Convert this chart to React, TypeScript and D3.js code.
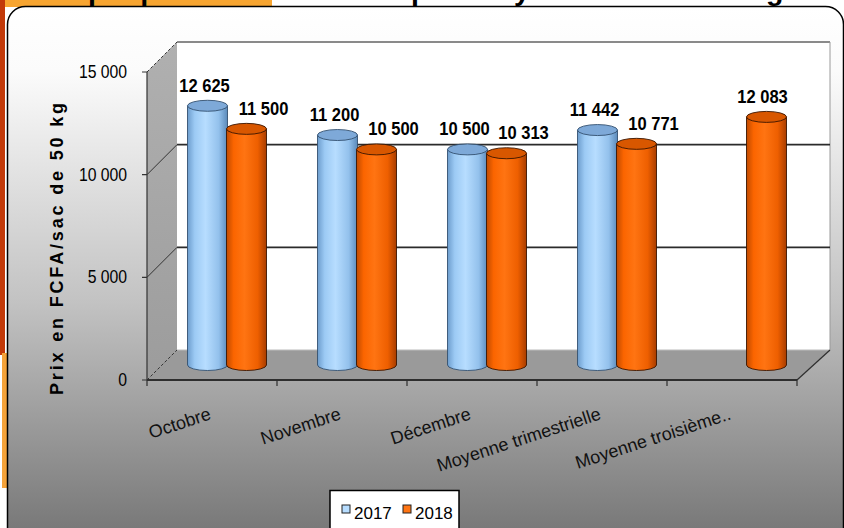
import React from "react";
import * as d3 from "d3";

const categories = [
  "Octobre",
  "Novembre",
  "Décembre",
  "Moyenne trimestrielle",
  "Moyenne troisième..",
];
const series = ["2017", "2018"];
const values2017: (number | null)[] = [12625, 11200, 10500, 11442, null];
const values2018: (number | null)[] = [11500, 10500, 10313, 10771, 12083];
const yTicks = [0, 5000, 10000, 15000];
const yTitle = "Prix en FCFA/sac de 50 kg";
const title = "Graphique 4 : Evolution du prix moyen du sac de 50 kg";

const fr = d3.formatLocale({
  decimal: ",",
  thousands: "\u00a0",
  grouping: [3],
  currency: ["", " FCFA"],
});
const fmt = fr.format(",d");

const W = 844;
const H = 528;
const font = "'Liberation Sans', Arial, sans-serif";

// 3D box
const plot = { left: 147, right: 797, top: 72, bottom: 380 };
const depth = { dx: 30, dy: -30 };

const colors = {
  "2017": { stops: ["#6d9dcd", "#9ccaf4", "#b7ddff", "#93c1ec", "#5b8aba"], top: "#7ea9d8", line: "#33506f" },
  "2018": { stops: ["#c04a00", "#fb6500", "#ff7412", "#ee5f00", "#a83d00"], top: "#d85700", line: "#3a1500" },
};

export default function App() {
  const x0 = d3.scaleBand<string>().domain(categories).range([plot.left, plot.right]);
  const x1 = d3.scaleBand<string>().domain(series).range([-39, 39]);
  const y = d3.scaleLinear().domain([0, 15000]).range([plot.bottom, plot.top]);

  const bdx = depth.dx;
  const bdy = depth.dy;
  const mdx = depth.dx / 2;
  const mdy = depth.dy / 2;

  const backL = plot.left + bdx;
  const backR = plot.right + bdx + 3;
  const y0 = y(0);
  const yMax = y(15000);

  const rx = x1.bandwidth() / 2 + 0.5;
  const ry = 5.5;

  const bars: { cat: string; s: string; v: number; i: number }[] = [];
  categories.forEach((c, i) => {
    if (values2017[i] != null) bars.push({ cat: c, s: "2017", v: values2017[i] as number, i });
    if (values2018[i] != null) bars.push({ cat: c, s: "2018", v: values2018[i] as number, i });
  });

  const barX = (b: { cat: string; s: string }) =>
    (x0(b.cat) as number) + x0.bandwidth() / 2 + (x1(b.s) as number) + x1.bandwidth() / 2 + mdx;

  return (
    <svg
      width={W}
      height={H}
      style={{ position: "absolute", left: 0, top: 0, display: "block", background: "#fff" }}
    >
      <defs>
        <linearGradient id="bg" x1="0" y1="0" x2="0" y2="1">
          <stop offset="0" stopColor="#ffffff" />
          <stop offset="0.12" stopColor="#fbfbfb" />
          <stop offset="0.55" stopColor="#c2c2c2" />
          <stop offset="1" stopColor="#737373" />
        </linearGradient>
        <linearGradient id="side" x1="0" y1="0" x2="0" y2="1">
          <stop offset="0" stopColor="#b0b0b0" />
          <stop offset="1" stopColor="#9c9c9c" />
        </linearGradient>
        {series.map((s) => (
          <linearGradient key={s} id={`cyl${s}`} x1="0" y1="0" x2="1" y2="0">
            {colors[s].stops.map((c, k) => (
              <stop key={k} offset={[0, 0.18, 0.45, 0.78, 1][k]} stopColor={c} />
            ))}
          </linearGradient>
        ))}
        <clipPath id="frameClip">
          <rect x={7.5} y={6.5} width={836} height={540} rx={18} />
        </clipPath>
      </defs>

      {/* page decoration behind chart */}
      <rect x={0} y={0} width={272} height={7} fill="#f7a531" />
      <rect x={0} y={0} width={5} height={355} fill="#c23a0a" />
      <rect x={2} y={353} width={5} height={135} fill="#f5a33a" />
      <text x={39} y={-0.5} fontFamily={font} fontWeight="bold" fontSize={28.5} fill="#000">
        {title}
      </text>

      {/* chart frame */}
      <rect x={7.5} y={6.5} width={836} height={540} rx={18} fill="url(#bg)" stroke="#000" strokeWidth={1.5} />

      <g clipPath="url(#frameClip)">
        {/* floor */}
        <polygon
          points={`${plot.left},${y0} ${backL},${y0 + bdy} ${backR},${y0 + bdy} ${plot.right},${y0}`}
          fill="#9a9a9a"
        />
        {/* side wall */}
        <polygon
          points={`${plot.left},${yMax} ${backL},${yMax + bdy} ${backL},${y0 + bdy} ${plot.left},${y0}`}
          fill="url(#side)"
        />
        {/* back wall */}
        <rect x={backL} y={yMax + bdy} width={backR - backL} height={y0 - yMax} fill="#fff" />
        <line x1={backL} x2={backR} y1={yMax + bdy} y2={yMax + bdy} stroke="#8a8a8a" strokeWidth={2} />
        <line x1={backR} x2={backR} y1={yMax + bdy} y2={y0 + bdy} stroke="#9a9a9a" strokeWidth={1} />
        <line x1={backL} x2={backR} y1={y0 + bdy} y2={y0 + bdy} stroke="#bbb" strokeWidth={1} />

        {/* gridlines */}
        {yTicks.map((t) => {
          const edge = t === 0 || t === 15000;
          return (
            <g key={t}>
              <line
                x1={plot.left}
                y1={y(t)}
                x2={backL}
                y2={y(t) + bdy}
                stroke="#333"
                strokeWidth={1}
                strokeDasharray={edge ? "3,2" : undefined}
              />
              {!edge && (
                <line x1={backL} x2={backR} y1={y(t) + bdy} y2={y(t) + bdy} stroke="#2b2b2b" strokeWidth={1.6} />
              )}
            </g>
          );
        })}

        {/* cylinders */}
        {bars.map((b) => {
          const cx = barX(b);
          const yt = y(b.v) + mdy;
          const yb = y(0) + mdy;
          const c = colors[b.s];
          const body = `M${cx - rx},${yt} L${cx - rx},${yb} A${rx},${ry} 0 0 0 ${cx + rx},${yb} L${cx + rx},${yt} Z`;
          return (
            <g key={b.cat + b.s}>
              <path d={body} fill={`url(#cyl${b.s})`} stroke={c.line} strokeWidth={0.9} />
              <ellipse cx={cx} cy={yt} rx={rx} ry={ry} fill={c.top} stroke={c.line} strokeWidth={0.9} />
            </g>
          );
        })}

        {/* data labels */}
        {bars.map((b) => {
          const cx = barX(b);
          const yt = y(b.v) + mdy;
          const shift = b.s === "2018" ? (values2017[b.i] != null ? 17 : -4) : -3;
          return (
            <text
              key={"l" + b.cat + b.s}
              transform={`translate(${cx + shift},${yt - 14}) scale(0.87,1)`}
              textAnchor="middle"
              fontFamily={font}
              fontWeight="bold"
              fontSize={19}
              fill="#000"
            >
              {fmt(b.v)}
            </text>
          );
        })}

        {/* y axis */}
        <line x1={plot.left} x2={plot.left} y1={yMax} y2={y0} stroke="#333" strokeWidth={1.2} />
        {yTicks.map((t) => (
          <g key={"t" + t}>
            <line x1={plot.left - 5} x2={plot.left} y1={y(t)} y2={y(t)} stroke="#333" strokeWidth={1.2} />
            <text
              transform={`translate(${plot.left - 20},${y(t)}) scale(0.9,1)`}
              dy="0.35em"
              textAnchor="end"
              fontFamily={font}
              fontSize={17.5}
              fill="#000"
            >
              {fmt(t)}
            </text>
          </g>
        ))}

        {/* floor front edge and x ticks */}
        <line x1={plot.left} x2={plot.right} y1={y0} y2={y0} stroke="#2e2e2e" strokeWidth={2.2} />
        <line x1={plot.right} y1={y0} x2={backR} y2={y0 + bdy} stroke="#2e2e2e" strokeWidth={1.2} />
        {categories.concat([""]).map((c, i) => {
          const xx = i < categories.length ? (x0(c) as number) : plot.right;
          return <line key={"xt" + i} x1={xx} x2={xx} y1={y0} y2={y0 + 6} stroke="#2e2e2e" strokeWidth={1.2} />;
        })}

        {/* x labels */}
        {categories.map((c) => {
          const xx = (x0(c) as number) + x0.bandwidth() / 2;
          return (
            <text
              key={"xl" + c}
              transform={`translate(${xx},${y0 + 39}) rotate(-18)`}
              textAnchor="end"
              fontFamily={font}
              fontSize={18}
              fill="#111"
            >
              {c}
            </text>
          );
        })}

        {/* y title */}
        <text
          transform={`translate(63,395) rotate(-90)`}
          fontFamily={font}
          fontWeight="bold"
          fontSize={18}
          textLength={292}
          lengthAdjust="spacing"
          fill="#000"
        >
          {yTitle}
        </text>

        {/* legend */}
        <rect x={330} y={490.5} width={129} height={45} fill="#fff" stroke="#000" strokeWidth={1.5} />
        {series.map((s, k) => (
          <g key={"lg" + s} transform={`translate(${342 + k * 61},0)`}>
            <rect x={0} y={505} width={8} height={8} fill={colors[s].stops[2]} stroke="#222" strokeWidth={1} />
            <text x={12} y={519} fontFamily={font} fontSize={17} fill="#000">
              {s}
            </text>
          </g>
        ))}
      </g>
    </svg>
  );
}
